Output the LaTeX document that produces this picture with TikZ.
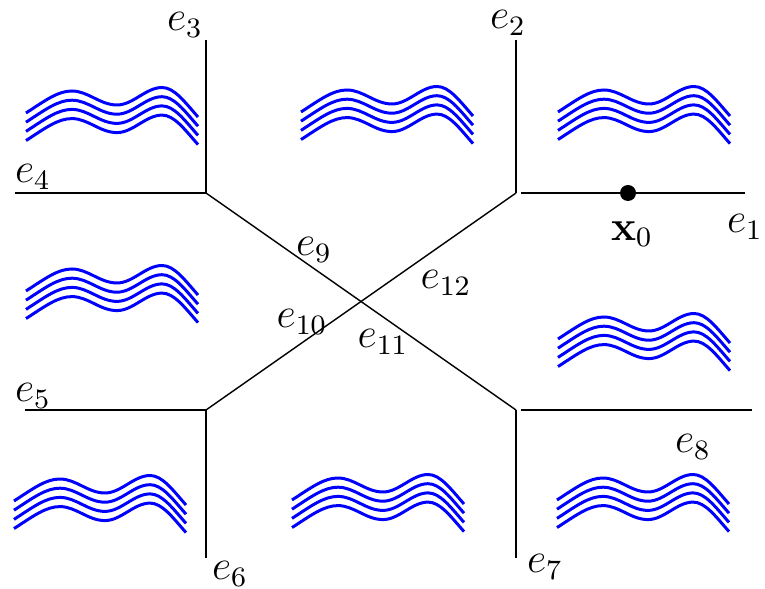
\documentclass[tikz,border=0pt]{standalone}
\usepackage{tikz}
\usetikzlibrary{positioning}

\begin{document}
\begin{tikzpicture}[
  edge/.style={black, line width=0.4pt},
  wave/.style={blue, line width=0.85pt},
  lbl/.style={font=\large, inner sep=1pt},
  pt/.style={circle, fill=black, inner sep=0pt, minimum size=0.16cm}
]
\useasboundingbox (-3.61,-2.87) rectangle (4.04,3.02);

% vertices
\coordinate (vtl) at (-1.55,1.09);
\coordinate (vtr) at (1.55,1.09);
\coordinate (vbl) at (-1.55,-1.08);
\coordinate (vbr) at (1.55,-1.08);

% free ends
\coordinate (end1a) at (1.60,1.09);
\coordinate (end1) at (3.84,1.09);
\coordinate (end2) at (1.55,2.62);
\coordinate (end3) at (-1.55,2.62);
\coordinate (end4) at (-3.46,1.09);
\coordinate (end5) at (-3.36,-1.08);
\coordinate (end6) at (-1.55,-2.56);
\coordinate (end7) at (1.55,-2.56);
\coordinate (end8a) at (1.60,-1.08);
\coordinate (end8) at (3.91,-1.08);

\draw[edge] (end1a) -- (end1);
\draw[edge] (vtr) -- (end2);
\draw[edge] (vtl) -- (end3);
\draw[edge] (vtl) -- (end4);
\draw[edge] (vbl) -- (end5);
\draw[edge] (vbl) -- (end6);
\draw[edge] (vbr) -- (end7);
\draw[edge] (end8a) -- (end8);
\draw[edge] (vtl) -- (vbr);
\draw[edge] (vbl) -- (vtr);

\node[pt] (x0pt) at (2.67,1.09) {};

% labels
\node[lbl] (e1) at (3.84,0.75) {$e_1$};
\node[lbl] (e2) at (1.47,2.79) {$e_2$};
\node[lbl] (e3) at (-1.76,2.77) {$e_3$};
\node[lbl] (e4) at (-3.28,1.25) {$e_4$};
\node[lbl] (e5) at (-3.28,-0.94) {$e_5$};
\node[lbl] (e6) at (-1.31,-2.72) {$e_6$};
\node[lbl] (e7) at (1.84,-2.65) {$e_7$};
\node[lbl] (e8) at (3.32,-1.45) {$e_8$};
\node[lbl] (e9) at (-0.47,0.52) {$e_9$};
\node[lbl] (e10) at (-0.59,-0.20) {$e_{10}$};
\node[lbl] (e11) at (0.22,-0.40) {$e_{11}$};
\node[lbl] (e12) at (0.85,0.19) {$e_{12}$};
\node[lbl] (x0) at (2.71,0.68) {$\mathbf{x}_0$};

% waves
\foreach \wx/\wy in {-3.35/1.89, -0.60/1.90, 1.97/1.90, -3.35/0.11,
                     1.97/-0.37, -3.47/-1.99, -0.69/-1.98, 1.96/-1.98}
  \foreach \k in {0,...,3}
    \draw[wave, shift={(\wx,\wy-0.092*\k)}] (0,0)
      .. controls (0.2,0.13) and (0.32,0.22) .. (0.46,0.22)
      .. controls (0.62,0.22) and (0.74,0.08) .. (0.91,0.08)
      .. controls (1.07,0.08) and (1.2,0.255) .. (1.36,0.255)
      .. controls (1.48,0.255) and (1.58,0.12) .. (1.72,-0.04);

\end{tikzpicture}
\end{document}
